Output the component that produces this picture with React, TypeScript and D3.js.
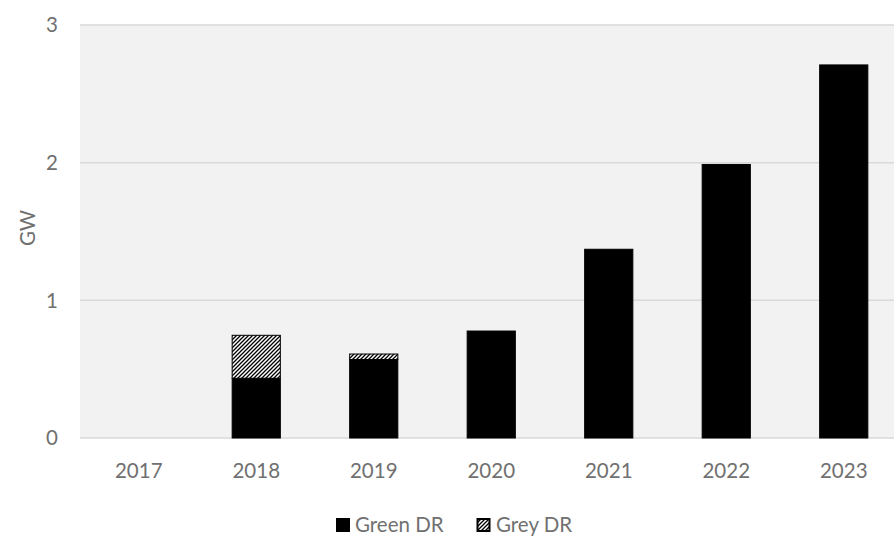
import React from "react";
import * as d3 from "d3";

const years = ["2017", "2018", "2019", "2020", "2021", "2022", "2023"];
const greenDR = [0, 0.434, 0.57, 0.777, 1.371, 1.987, 2.71];
const greyDR = [0, 0.312, 0.04, 0, 0, 0, 0];
const yTicks = [0, 1, 2, 3];

const W = 894;
const H = 536;
const FONT = "Lato, 'Open Sans', sans-serif";
const TXT = "#707070";
const FS = 20.5;

export default function App() {
  const left = 80;
  const top = 25;
  const bottom = 438;
  const bandW = 117.5;
  const x = d3
    .scaleBand<string>()
    .domain(years)
    .range([left, left + bandW * years.length])
    .paddingInner(0.59)
    .paddingOuter(0.295);
  const y = d3.scaleLinear().domain([0, 3]).range([bottom, top]);
  const stack = d3.stack<any>().keys(["green", "grey"])(
    years.map((yr, i) => ({ year: yr, green: greenDR[i], grey: greyDR[i] }))
  );
  const plotRight = left + bandW * years.length;

  return (
    <svg
      width={W}
      height={H}
      style={{ position: "absolute", left: 0, top: 0, background: "#fff" }}
      fontFamily={FONT}
    >
      <defs>
        <pattern id="hatch" patternUnits="userSpaceOnUse" width="4" height="4">
          <rect width="4" height="4" fill="#fff" />
          <path d="M-1,1 l2,-2 M0,4 l4,-4 M3,5 l2,-2" stroke="#000" strokeWidth="1.3" />
        </pattern>
      </defs>
      <rect x={left} y={top} width={plotRight - left} height={bottom - top} fill="#f2f2f2" />
      {yTicks.map((t) => (
        <g key={t}>
          <line x1={left} x2={plotRight} y1={y(t)} y2={y(t)} stroke="#d9d9d9" strokeWidth={1.5} />
          <text x={58} y={y(t)} dy="0.35em" textAnchor="end" fontSize={FS} fill={TXT}>
            {t}
          </text>
        </g>
      ))}
      <text
        transform={`translate(28,228) rotate(-90)`}
        textAnchor="middle"
        dy="0.35em"
        fontSize={FS}
        fill={TXT}
      >
        GW
      </text>
      {stack.map((s, si) =>
        s.map((d, i) =>
          d[1] - d[0] > 0 ? (
            <rect
              key={`${si}-${i}`}
              x={x(years[i])}
              width={x.bandwidth()}
              y={y(d[1])}
              height={y(d[0]) - y(d[1])}
              fill={si === 0 ? "#000" : "url(#hatch)"}
              stroke="#000"
              strokeWidth={1}
            />
          ) : null
        )
      )}
      {years.map((yr) => (
        <text
          key={yr}
          x={(x(yr) as number) + x.bandwidth() / 2}
          y={471}
          dy="0.35em"
          textAnchor="middle"
          fontSize={FS}
          fill={TXT}
        >
          {yr}
        </text>
      ))}
      <g>
        <rect x={336} y={518} width={14} height={14} fill="#000" />
        <text x={355} y={525} dy="0.35em" fontSize={FS} fill={TXT}>
          Green DR
        </text>
        <rect x={477.5} y={519} width={12} height={12} fill="url(#hatch)" stroke="#000" strokeWidth={2} />
        <text x={496} y={525} dy="0.35em" fontSize={FS} fill={TXT}>
          Grey DR
        </text>
      </g>
    </svg>
  );
}
